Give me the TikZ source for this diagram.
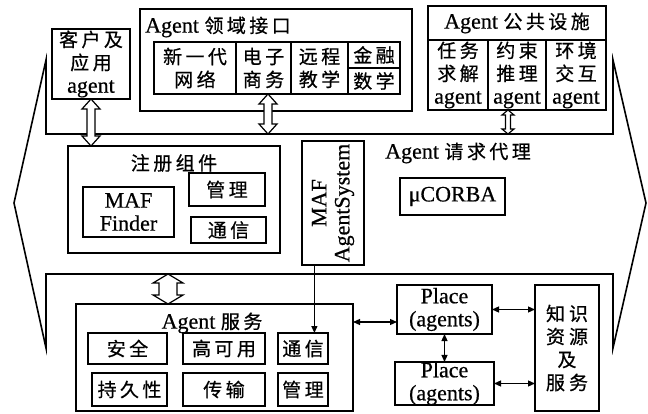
\documentclass[tikz,border=0pt]{standalone}
\usepackage{fontspec}
\setmainfont{Liberation Serif}[FakeBold=0.6]
\newfontfamily\cjkf[LetterSpace=18,FakeBold=0.6]{Noto Sans CJK SC}
\usetikzlibrary{calc,arrows.meta}
\newcommand\zh[1]{{\cjkf\fontsize{19}{23}\selectfont #1}}
\newcommand\dblarrow[5]{%
 \draw[hollowst] (#1) -- ($(#1)+(#3,#5)$) -- ($(#1)+(#4,#5)$) -- ($(#2)+(#4,-#5)$) -- ($(#2)+(#3,-#5)$) -- (#2)
   -- ($(#2)+(-#3,-#5)$) -- ($(#2)+(-#4,-#5)$) -- ($(#1)+(-#4,#5)$) -- ($(#1)+(-#3,#5)$) -- cycle;}
\begin{document}
\begin{tikzpicture}[x=1pt,y=-1pt,
  box/.style={draw, line width=1.3pt, inner sep=0pt, outer sep=0pt, align=center, font=\fontsize{22}{23}\selectfont},
  lbl/.style={inner sep=0pt, align=center, font=\fontsize{22}{23}\selectfont},
  outl/.style={line width=1.6pt, line join=miter},
  conn/.style={line width=1.2pt, {Triangle[length=7pt,width=6pt]}-{Triangle[length=7pt,width=6pt]}},
  sarrow/.style={line width=1.2pt, -{Triangle[length=7pt,width=6pt]}},
  hollowst/.style={draw, fill=white, line width=1.2pt, line join=miter}
]
\useasboundingbox (0,0) rectangle (648,414);
% outline
\draw[outl] (46,134) -- (46,60) -- (14,203) -- (46,348) -- (46,274) -- (613,274) -- (613,348)
  -- (646,203) -- (613,60) -- (613,134) -- cycle;

% top band
\node[box, minimum width=78pt, minimum height=70pt] (client) at (91,64) {\zh{客户及}\\\zh{应用}\\agent};
\node[box, minimum width=272pt, minimum height=102pt] (domain) at (276,60) {};
\node[lbl, anchor=west] (domtitle) at (145,27) {Agent \zh{领域接口}};
\node[box, minimum width=82pt, minimum height=52pt] (ngn) at (195,68) {\zh{新一代}\\\zh{网络}};
\node[box, minimum width=55pt, minimum height=52pt] (ecom) at (263.5,68) {\zh{电子}\\\zh{商务}};
\node[box, minimum width=57pt, minimum height=52pt] (edu) at (319.5,68) {\zh{远程}\\\zh{教学}};
\node[box, minimum width=52pt, minimum height=26pt] (fin) at (374,55) {\zh{金融}};
\node[box, minimum width=52pt, minimum height=26pt] (math) at (374,81) {\zh{数学}};

\node[box, minimum width=178pt, minimum height=104pt] (pub) at (517,58) {};
\node[box, minimum width=178pt, minimum height=34pt] (pubtitle) at (517,23) {Agent \zh{公共设施}};
\node[box, minimum width=60pt, minimum height=70pt] (task) at (458,75) {\zh{任务}\\\zh{求解}\\agent};
\node[box, minimum width=58pt, minimum height=70pt] (cons) at (517,75) {\zh{约束}\\\zh{推理}\\agent};
\node[box, minimum width=60pt, minimum height=70pt] (env) at (576,75) {\zh{环境}\\\zh{交互}\\agent};

% middle
\node[box, minimum width=212pt, minimum height=107pt] (reg) at (174,199.5) {};
\node[lbl] (regtitle) at (174,163) {\zh{注册组件}};
\node[box, minimum width=91pt, minimum height=50pt] (finder) at (128.5,212) {MAF\\Finder};
\node[box, minimum width=76pt, minimum height=33pt] (regmgmt) at (227,189.5) {\zh{管理}};
\node[box, minimum width=75pt, minimum height=26pt] (regcomm) at (228.5,230) {\zh{通信}};

\node[box, minimum width=62pt, minimum height=124pt] (mafas) at (333,203) {};
\node[lbl, rotate=90] (mafastext) at (333,203) {MAF\\AgentSystem};

\node[lbl] (broker) at (458,153) {Agent \zh{请求代理}};
\node[box, minimum width=105pt, minimum height=37pt] (corba) at (452.5,196.5) {μCORBA};

% bottom
\node[box, minimum width=277pt, minimum height=107pt] (svc) at (214.5,357.5) {};
\node[lbl] (svctitle) at (212,323) {Agent \zh{服务}};
\node[box, minimum width=79pt, minimum height=31pt] (sec) at (127.5,348.5) {\zh{安全}};
\node[box, minimum width=82pt, minimum height=31pt] (ha) at (224,348.5) {\zh{高可用}};
\node[box, minimum width=50pt, minimum height=31pt] (comm) at (303,348.5) {\zh{通信}};
\node[box, minimum width=75pt, minimum height=33pt] (pers) at (129.5,389.5) {\zh{持久性}};
\node[box, minimum width=82pt, minimum height=33pt] (trans) at (224,389.5) {\zh{传输}};
\node[box, minimum width=50pt, minimum height=33pt] (mgmt) at (303,389.5) {\zh{管理}};

\node[box, minimum width=95pt, minimum height=49pt] (place1) at (444.5,309.5) {Place\\(agents)};
\node[box, minimum width=99pt, minimum height=43pt] (place2) at (444.5,383.5) {Place\\(agents)};
\node[box, minimum width=64pt, minimum height=126pt] (know) at (567,348) {\zh{知\hspace{4pt}识}\\\zh{资\hspace{4pt}源}\\\zh{及}\\\zh{服\hspace{4pt}务}};

% connectors
\coordinate (masrc) at ($(mafas.south west)!0.2!(mafas.south east)$);
\draw[sarrow] (masrc) -- (masrc |- comm.north);
\coordinate (p1in) at ($(place1.west)+(0,12.5)$);
\draw[conn] (svc.east |- p1in) -- (p1in);
\draw[conn] (place1.east) -- (place1.east -| know.west);
\draw[conn] (place1.south) -- (place2.north);
\draw[conn] (place2.east) -- (place2.east -| know.west);

% hollow double arrows
\dblarrow{client.south}{client.south |- reg.north}{9}{4}{10}
\coordinate (dtop) at ($(ecom.south)+(4.5,0)$);
\coordinate (dbot) at (268,134);
\dblarrow{dtop}{dbot}{9}{4}{10}
\coordinate (ptop) at ($(pub.south)+(-9,0)$);
\coordinate (pbot) at (508,134);
\dblarrow{ptop}{pbot}{6}{2.5}{5}
\coordinate (stop) at (168,274);
\dblarrow{stop}{stop |- svc.north}{15}{9}{9}
\end{tikzpicture}
\end{document}
